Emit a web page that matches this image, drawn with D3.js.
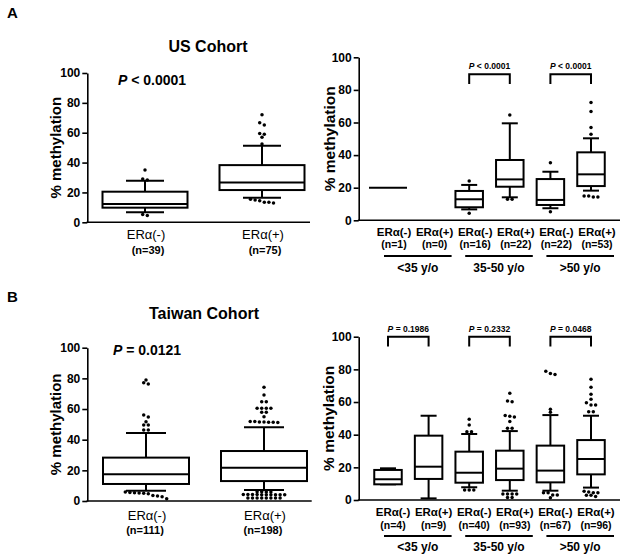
<!DOCTYPE html>
<html><head><meta charset="utf-8">
<script src="https://cdn.jsdelivr.net/npm/d3@7"></script>
<style>body{margin:0;background:#fff} svg{display:block;background:#fff}</style>
</head><body><svg id="c" width="624" height="558"></svg>
<script>
// ---------------- data ----------------
const yTicks = [0, 20, 40, 60, 80, 100];
const cohortCats = ["ERα(-)", "ERα(+)"];

// A: US cohort (overall)
const usN = ["(n=39)", "(n=75)"];
const usMin = [6.7, 16.5];
const usQ1 = [9.8, 21.6];
const usMed = [12.2, 26.7];
const usQ3 = [20.5, 38.3];
const usMax = [27.8, 51.2];
const usOut = [[35, 29, 28.3, 5.2, 4.6],
               [72, 66.6, 65.2, 59.5, 59, 57, 52.4, 15.5, 15, 14.5, 13.5, 13.5, 13]];
const usP = "< 0.0001";

// B: Taiwan cohort (overall)
const twN = ["(n=111)", "(n=198)"];
const twMin = [6.7, 7.2];
const twQ1 = [11.1, 13.0];
const twMed = [17.4, 21.7];
const twQ3 = [28.3, 32.6];
const twMax = [44.4, 48.1];
const twOut = [[78.9, 77.2, 76.3, 56.1, 54.8, 51.7, 49.6, 49.6, 46.3, 46.3,
                5.8, 5.6, 5.4, 5.2, 5.0, 4.8, 3.6, 3.2, 2.8, 1.5],
               [74.2, 69.1, 64.8, 64.8, 60.5, 60.5, 60.5, 60.5, 57.9, 57.9, 55,
                51.8, 51.6, 51.4, 51.2, 51.4, 51.6, 51.8,
                6.0, 6.0, 5.9, 5.9,
                4.3, 4.2, 4.1, 4.0, 4.0, 4.0, 4.0, 4.1, 4.2, 4.3,
                2.0, 2.0, 2.0, 2.0, 2.0, 2.0, 2.0, 2.0]];
const twP = "= 0.0121";

// Age-stratified
const ageCats = ["ERα(-)", "ERα(+)", "ERα(-)", "ERα(+)", "ERα(-)", "ERα(+)"];
const ageGroups = ["<35 y/o", "35-50 y/o", ">50 y/o"];

const usAgeN = ["(n=1)", "(n=0)", "(n=16)", "(n=22)", "(n=22)", "(n=53)"];
const usAgeMin = [20, null, 6.7, 14.1, 7.4, 18.2];
const usAgeQ1 = [20, null, 8.0, 20.6, 9.4, 21.0];
const usAgeMed = [20, null, 12.9, 25.1, 12.5, 28.2];
const usAgeQ3 = [20, null, 18.0, 37.0, 25.3, 41.7];
const usAgeMax = [20, null, 21.7, 59.5, 29.8, 50.3];
const usAgeOut = [[], [], [24.1, 4.3], [64.6, 12.9, 12.9], [35.3, 5.3],
                  [72.2, 66.7, 57, 52.8, 14.9, 14.3, 14.3, 14.9]];
const usAgeP = [null, "< 0.0001", "< 0.0001"];

const twAgeN = ["(n=4)", "(n=9)", "(n=40)", "(n=93)", "(n=67)", "(n=96)"];
const twAgeMin = [9.6, 1.0, 7.8, 5.7, 5.7, 7.6];
const twAgeQ1 = [9.6, 12.9, 10.6, 12.2, 10.8, 15.7];
const twAgeMed = [12.7, 20.4, 16.7, 19.2, 18.0, 25.1];
const twAgeQ3 = [18.4, 39.4, 29.6, 30.2, 33.3, 36.7];
const twAgeMax = [19.4, 51.6, 40.4, 42.2, 52.0, 51.6];
const twAgeOut = [[], [], [49.4, 45.9, 41.8, 41.8, 6.1, 6.1, 6.1],
                  [65.3, 60.6, 60.2, 51.8, 51.3, 50.8, 48, 43.9, 43.9, 3.7, 3.7, 3.7, 3.7, 1.6, 1.6],
                  [78.9, 77.4, 76.9, 55.5, 53.7, 4.5, 4.5, 3.1, 3.1, 1.4],
                  [73.9, 69, 64.7, 61.7, 59.6, 58.2, 58.2, 54.1, 54.1, 5.3, 4.9, 4.5, 4.5, 2.9, 2.9, 2.2]];
const twAgeP = ["= 0.1986", "= 0.2332", "= 0.0468"];

// ---------------- drawing ----------------
const FONT = '"Liberation Sans", Arial, Helvetica, sans-serif';
const svg = d3.select("#c").style("font-family", FONT);

function clusterDots(vals, cx, y, tol, gap) {
  const s = vals.slice().sort((a, b) => b - a);
  const clusters = [];
  s.forEach(v => {
    const last = clusters[clusters.length - 1];
    if (last && Math.abs(last[last.length - 1] - v) <= tol) last.push(v);
    else clusters.push([v]);
  });
  const pts = [];
  clusters.forEach(c => c.forEach((v, i) => pts.push({x: cx + (i - (c.length - 1) / 2) * gap, y: y(v)})));
  return pts;
}

function drawPanel(cfg) {
  const g = svg.append("g");
  const y = d3.scaleLinear().domain([0, 100]).range(cfg.yRange);
  const x = d3.scalePoint().domain(d3.range(cfg.min.length)).range(cfg.xRange);

  // y axis
  const ax = g.append("g").attr("transform", `translate(${cfg.axisX0},0)`)
    .call(d3.axisLeft(y).tickValues(yTicks).tickSize(5).tickSizeOuter(0).tickPadding(2));
  ax.select(".domain").attr("stroke", "#000").attr("stroke-width", 1.6);
  ax.selectAll(".tick line").attr("stroke", "#000").attr("stroke-width", 1.6);
  ax.selectAll(".tick text").attr("fill", "#000").style("font-family", FONT)
    .style("font-size", "12px").style("font-weight", "bold");
  // x baseline
  g.append("line").attr("x1", cfg.axisX0 - 0.8).attr("x2", cfg.axisX1)
    .attr("y1", y(0)).attr("y2", y(0)).attr("stroke", "#000").attr("stroke-width", 1.6);

  // boxes
  cfg.min.forEach((mn, i) => {
    if (mn == null) return;
    const cx = x(i);
    const bg = g.append("g").attr("stroke", "#000").attr("stroke-width", 2).attr("fill", "none");
    if (cfg.q1[i] === cfg.q3[i]) {
      const hw = cfg.singleW / 2;
      bg.append("line").attr("x1", cx - hw).attr("x2", cx + hw)
        .attr("y1", y(cfg.med[i])).attr("y2", y(cfg.med[i]));
      return;
    }
    const hw = cfg.boxW / 2, hc = cfg.capW / 2;
    bg.append("line").attr("x1", cx).attr("x2", cx).attr("y1", y(cfg.max[i])).attr("y2", y(cfg.q3[i]));
    bg.append("line").attr("x1", cx).attr("x2", cx).attr("y1", y(cfg.q1[i])).attr("y2", y(cfg.min[i]));
    bg.append("line").attr("x1", cx - hc).attr("x2", cx + hc).attr("y1", y(cfg.max[i])).attr("y2", y(cfg.max[i]));
    bg.append("line").attr("x1", cx - hc).attr("x2", cx + hc).attr("y1", y(cfg.min[i])).attr("y2", y(cfg.min[i]));
    bg.append("rect").attr("x", cx - hw).attr("width", cfg.boxW)
      .attr("y", y(cfg.q3[i])).attr("height", y(cfg.q1[i]) - y(cfg.q3[i])).attr("fill", "#fff");
    bg.append("line").attr("x1", cx - hw).attr("x2", cx + hw).attr("y1", y(cfg.med[i])).attr("y2", y(cfg.med[i]));
  });

  // outliers
  cfg.out.forEach((vals, i) => {
    const pts = clusterDots(vals, x(i), y, 1.5, cfg.dotGap);
    g.selectAll(null).data(pts).enter().append("circle")
      .attr("cx", d => d.x).attr("cy", d => d.y).attr("r", 1.75).attr("fill", "#000");
  });

  // y title
  g.append("text").attr("transform", `translate(${cfg.titleX},${(cfg.yRange[0] + cfg.yRange[1]) / 2}) rotate(-90)`)
    .attr("text-anchor", "middle").style("font-size", cfg.titleSize + "px").style("font-weight", "bold")
    .text("% methylation");

  // category labels
  cfg.cats.forEach((c, i) => {
    g.append("text").attr("x", x(i) + cfg.labelDx).attr("y", cfg.catY).attr("text-anchor", "middle")
      .style("font-size", cfg.catSize + "px").style("font-weight", cfg.catWeight).text(c);
    g.append("text").attr("x", x(i) + cfg.labelDx + cfg.nDx).attr("y", cfg.nY).attr("text-anchor", "middle")
      .style("font-size", cfg.nSize + "px").style("font-weight", "bold").text(cfg.nLab[i]);
  });
  return {g, x, y};
}

function drawGroups(p, groupY, labelY) {
  ageGroups.forEach((gname, k) => {
    const x0 = p.x(2 * k) - 4, x1 = p.x(2 * k + 1) + 23;
    p.g.append("line").attr("x1", x0).attr("x2", x1).attr("y1", groupY).attr("y2", groupY)
      .attr("stroke", "#000").attr("stroke-width", 2.2);
    p.g.append("text").attr("x", (x0 + x1) / 2).attr("y", labelY).attr("text-anchor", "middle")
      .style("font-size", "12px").style("font-weight", "bold").text(gname);
  });
}

function drawBrackets(p, pTexts, topVal, legVal, textDy) {
  pTexts.forEach((t, k) => {
    if (!t) return;
    const x0 = p.x(2 * k), x1 = p.x(2 * k + 1);
    const yt = p.y(topVal), yl = p.y(legVal);
    p.g.append("path").attr("d", `M${x0},${yl}V${yt}H${x1}V${yl}`)
      .attr("fill", "none").attr("stroke", "#000").attr("stroke-width", 2);
    const tx = p.g.append("text").attr("x", (x0 + x1) / 2).attr("y", yt - textDy)
      .attr("text-anchor", "middle").style("font-size", "8.5px").style("font-weight", "bold");
    tx.append("tspan").style("font-style", "italic").text("P");
    tx.append("tspan").text(" " + t);
  });
}

function headline(x, y, t) {
  const tx = svg.append("text").attr("x", x).attr("y", y).style("font-size", "14px").style("font-weight", "bold");
  tx.append("tspan").style("font-style", "italic").text("P");
  tx.append("tspan").text(" " + t);
}

// Panel letters & titles
svg.append("text").attr("x", 7).attr("y", 18).style("font-size", "15px").style("font-weight", "bold").text("A");
svg.append("text").attr("x", 7).attr("y", 302).style("font-size", "15px").style("font-weight", "bold").text("B");
svg.append("text").attr("x", 208).attr("y", 52).attr("text-anchor", "middle")
  .style("font-size", "16px").style("font-weight", "bold").text("US Cohort");
svg.append("text").attr("x", 204).attr("y", 319).attr("text-anchor", "middle")
  .style("font-size", "16px").style("font-weight", "bold").text("Taiwan Cohort");

// A left
drawPanel({cats: cohortCats, nLab: usN, min: usMin, q1: usQ1, med: usMed, q3: usQ3, max: usMax, out: usOut,
  yRange: [222.3, 73], xRange: [145, 262], axisX0: 87.3, axisX1: 310,
  boxW: 85, capW: 38, singleW: 38, dotGap: 4.6, titleX: 61, titleSize: 15,
  labelDx: 1, nDx: 2, catY: 239, nY: 253.5, catSize: 13, catWeight: "normal", nSize: 11});
headline(118, 85, usP);

// B left
drawPanel({cats: cohortCats, nLab: twN, min: twMin, q1: twQ1, med: twMed, q3: twQ3, max: twMax, out: twOut,
  yRange: [501, 347.7], xRange: [146, 264], axisX0: 87.3, axisX1: 311.7,
  boxW: 86, capW: 40, singleW: 38, dotGap: 4.6, titleX: 61, titleSize: 15,
  labelDx: 1, nDx: -2, catY: 519.5, nY: 534, catSize: 13, catWeight: "normal", nSize: 11});
headline(113, 355, twP);

// A right
const pA = drawPanel({cats: ageCats, nLab: usAgeN, min: usAgeMin, q1: usAgeQ1, med: usAgeMed, q3: usAgeQ3, max: usAgeMax, out: usAgeOut,
  yRange: [220.3, 57.3], xRange: [388, 591], axisX0: 358.7, axisX1: 620,
  boxW: 27.5, capW: 16, singleW: 38, dotGap: 4.6, titleX: 335, titleSize: 15.5,
  labelDx: 6, nDx: 0, catY: 236, nY: 248.3, catSize: 11.5, catWeight: "bold", nSize: 10.5});
drawGroups(pA, 256, 272);
drawBrackets(pA, usAgeP, 89.6, 83.6, 5);

// B right
const pB = drawPanel({cats: ageCats, nLab: twAgeN, min: twAgeMin, q1: twAgeQ1, med: twAgeMed, q3: twAgeQ3, max: twAgeMax, out: twAgeOut,
  yRange: [500, 336.7], xRange: [388, 591], axisX0: 358.7, axisX1: 620,
  boxW: 27.5, capW: 16, singleW: 38, dotGap: 4.6, titleX: 334, titleSize: 15.5,
  labelDx: 5, nDx: 0, catY: 515.5, nY: 528.5, catSize: 11.5, catWeight: "bold", nSize: 10.5});
drawGroups(pB, 536, 551);
drawBrackets(pB, twAgeP, 100, 94, 4.5);
</script></body></html>
